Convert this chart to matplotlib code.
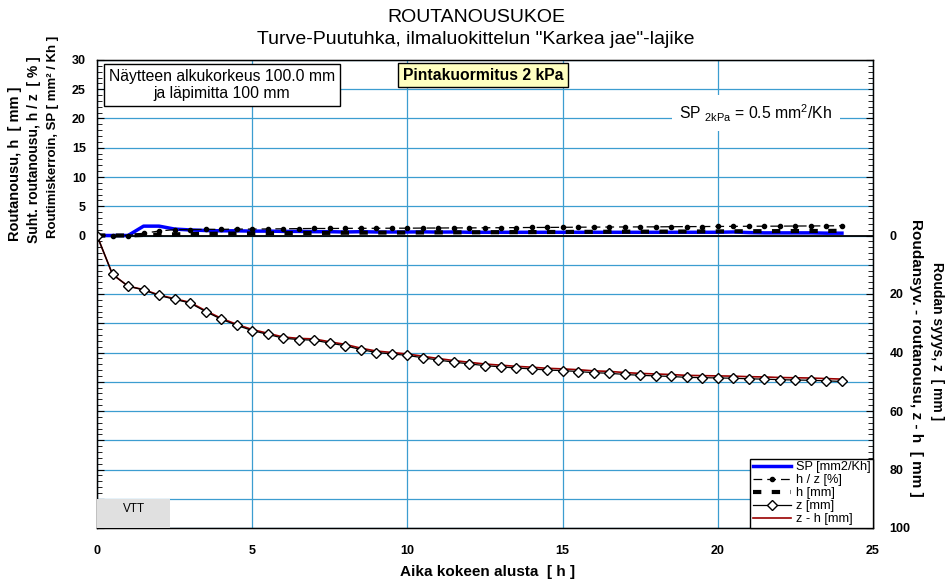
import matplotlib as mpl
import matplotlib.pyplot as plt
import numpy as np

plt.rcParams['font.family'] = ['Liberation Sans', 'DejaVu Sans']
plt.rcParams['mathtext.fontset'] = 'custom'
plt.rcParams['mathtext.rm'] = 'Liberation Sans'
plt.rcParams['mathtext.it'] = 'Liberation Sans:italic'
plt.rcParams['mathtext.bf'] = 'Liberation Sans:bold'

# time, h (every 0.5 h)
time_h = np.arange(0, 24.5, 0.5)

# frost depth z [mm]
z_mm = np.array([
    0.0, 13.3, 17.3, 18.6, 20.5, 21.8, 23.1, 26.0, 28.6, 30.7,
    32.5, 33.8, 35.1, 35.6, 35.8, 36.8, 37.7, 39.0, 40.0, 40.5,
    41.0, 41.8, 42.6, 43.3, 43.9, 44.5, 44.9, 45.3, 45.6, 46.0,
    46.2, 46.5, 46.9, 47.1, 47.5, 47.8, 48.0, 48.2, 48.5, 48.6,
    48.7, 48.8, 49.0, 49.1, 49.3, 49.4, 49.5, 49.7, 49.9])

# frost heave h [mm]
h_mm = np.array([
    0.0, 0.0, 0.0, 0.1, 0.16, 0.2, 0.23, 0.28, 0.3, 0.33,
    0.35, 0.38, 0.4, 0.42, 0.44, 0.45, 0.47, 0.48, 0.5, 0.5,
    0.5, 0.52, 0.53, 0.54, 0.55, 0.56, 0.57, 0.58, 0.58, 0.6,
    0.6, 0.62, 0.63, 0.64, 0.65, 0.65, 0.66, 0.67, 0.68, 0.69,
    0.7, 0.72, 0.73, 0.74, 0.75, 0.76, 0.77, 0.78, 0.8])

# relative heave h / z [%]
hz_pct = np.array([
    0.0, 0.0, 0.0, 0.37, 0.77, 1.0, 1.0, 1.05, 1.05, 1.1,
    1.1, 1.12, 1.15, 1.18, 1.2, 1.2, 1.22, 1.23, 1.23, 1.25,
    1.25, 1.27, 1.28, 1.3, 1.3, 1.32, 1.33, 1.35, 1.37, 1.38,
    1.4, 1.42, 1.43, 1.45, 1.46, 1.47, 1.48, 1.5, 1.52, 1.53,
    1.55, 1.56, 1.58, 1.59, 1.6, 1.62, 1.63, 1.65, 1.67])

# segregation potential SP [mm2/Kh]
sp = np.array([
    0.0, 0.0, 0.0, 1.6, 1.6, 1.1, 0.95, 0.85, 0.8, 0.8,
    0.75, 0.75, 0.7, 0.7, 0.65, 0.65, 0.6, 0.65, 0.6, 0.6,
    0.6, 0.62, 0.58, 0.6, 0.55, 0.55, 0.55, 0.55, 0.55, 0.55,
    0.55, 0.55, 0.55, 0.55, 0.55, 0.55, 0.55, 0.55, 0.55, 0.55,
    0.55, 0.6, 0.5, 0.45, 0.45, 0.45, 0.45, 0.4, 0.4])

z_minus_h = z_mm - h_mm

W, H = 948, 582


def fx(px):
    return px / W


def fy(py):
    return 1 - py / H


fig = plt.figure(figsize=(W / 100, H / 100), dpi=100)
ax = fig.add_axes([fx(97), fy(528), fx(873) - fx(97), fy(60) - fy(528)])
ax2 = ax.twinx()

grid_col = '#3c9dd0'

# left axis: SP, h/z, h
ax.set_xlim(0, 25)
ax.set_ylim(-50, 30)
ax.yaxis.set_major_locator(mpl.ticker.MultipleLocator(5))
ax.yaxis.set_minor_locator(mpl.ticker.MultipleLocator(1))
ax.yaxis.set_major_formatter(
    mpl.ticker.FuncFormatter(lambda v, p: '%d' % v if v >= 0 else ''))
ax.xaxis.set_major_locator(mpl.ticker.MultipleLocator(5))
ax.grid(True, color=grid_col, lw=0.9)
ax.set_axisbelow(True)
ax.axhline(0, color='black', lw=1.3, zorder=2)

ax.tick_params(axis='y', which='both', direction='in', left=True, right=False,
               labelsize=9, pad=8)
ax.tick_params(axis='y', which='major', length=5)
ax.tick_params(axis='y', which='minor', length=3.5)
ax.tick_params(axis='x', length=0, labelsize=9, pad=12)
for lab in ax.get_xticklabels() + ax.get_yticklabels():
    lab.set_fontweight('bold')

l_sp, = ax.plot(time_h, sp, color='#0000ff', lw=2.5, label='SP [mm2/Kh]', zorder=3)
l_hz, = ax.plot(time_h, hz_pct, color='black', lw=0.9, ls=(0, (7, 4)),
                marker='o', ms=3, label='h / z [%]', zorder=4)
l_h, = ax.plot(time_h, h_mm, color='black', lw=3, ls=(0, (2, 2.5)),
               label='h [mm]', zorder=4)

# right axis: z, z - h (inverted)
ax2.set_ylim(100, -60)
ax2.yaxis.set_major_locator(mpl.ticker.MultipleLocator(20))
ax2.yaxis.set_minor_locator(mpl.ticker.MultipleLocator(2))
ax2.yaxis.set_major_formatter(
    mpl.ticker.FuncFormatter(lambda v, p: '%d' % v if v >= 0 else ''))
ax2.tick_params(axis='y', which='both', direction='in', right=True,
                labelsize=9, pad=12)
ax2.tick_params(axis='y', which='major', length=5)
ax2.tick_params(axis='y', which='minor', length=3.5)
for lab in ax2.get_yticklabels():
    lab.set_fontweight('bold')

l_zh, = ax2.plot(time_h, z_minus_h, color='#990000', lw=1.2, label='z - h [mm]')
l_z, = ax2.plot(time_h, z_mm, color='black', lw=0.9, marker='D', ms=5,
                mfc='white', mec='black', mew=1, label='z [mm]')

for sp_ in ax2.spines.values():
    sp_.set_color('black')
    sp_.set_linewidth(1)

leg = ax2.legend(handles=[l_sp, l_hz, l_h, l_z, l_zh], loc='lower right',
                 fontsize=9.2, frameon=True, fancybox=False, framealpha=1,
                 edgecolor='black', borderaxespad=0, handlelength=3.0,
                 handletextpad=0.35, labelspacing=0.08, borderpad=0.2)
leg.get_frame().set_linewidth(1)

# VTT box
fig.patches.append(mpl.patches.Rectangle((fx(97), fy(528)), fx(170) - fx(97),
                                         fy(499) - fy(528), transform=fig.transFigure,
                                         facecolor='#e0e0e0', edgecolor='none', zorder=5))
fig.text(fx(134), fy(509), 'VTT', ha='center', va='center', fontsize=8.5, zorder=6)

# titles
fig.text(fx(476), fy(17), 'ROUTANOUSUKOE', ha='center', va='center', fontsize=14)
fig.text(fx(476), fy(40), 'Turve-Puutuhka, ilmaluokittelun "Karkea jae"-lajike',
         ha='center', va='center', fontsize=14)

# axis labels
fig.text(fx(15), fy(241), 'Routanousu, h  [ mm ]', rotation=90, ha='center',
         va='bottom', fontsize=10.5, fontweight='bold')
fig.text(fx(34), fy(243), 'Suht. routanousu, h / z  [ % ]', rotation=90, ha='center',
         va='bottom', fontsize=10, fontweight='bold')
fig.text(fx(53), fy(238), 'Routimiskerroin, SP [ mm² / Kh ]', rotation=90, ha='center',
         va='bottom', fontsize=9.5, fontweight='bold')
fig.text(fx(937), fy(341), 'Roudan syyys, z  [ mm ]', rotation=270, ha='center',
         va='center', fontsize=10, fontweight='bold')
fig.text(fx(916), fy(358), 'Roudansyv. - routanousu, z - h  [ mm ]', rotation=270,
         ha='center', va='center', fontsize=11, fontweight='bold')
fig.text(fx(488), fy(572), 'Aika kokeen alusta  [ h ]', ha='center', va='center',
         fontsize=11, fontweight='bold')

# annotations
fig.text(fx(222), fy(85), 'Näytteen alkukorkeus 100.0 mm\nja läpimitta 100 mm',
         ha='center', va='center', fontsize=11.3, linespacing=1.15,
         bbox=dict(boxstyle='square,pad=0.3', fc='white', ec='black', lw=1))
fig.text(fx(483), fy(75), 'Pintakuormitus 2 kPa', ha='center', va='center',
         fontsize=11.3, fontweight='bold',
         bbox=dict(boxstyle='square,pad=0.3', fc='#ffffc0', ec='black', lw=1))
fig.text(fx(756), fy(113), r'SP $_{\mathrm{2kPa}}$ = 0.5 mm$^{\mathrm{2}}$/Kh',
         ha='center', va='center', fontsize=11.3,
         bbox=dict(boxstyle='square,pad=0.45', fc='white', ec='none'))

plt.savefig('out.png', dpi=100)
